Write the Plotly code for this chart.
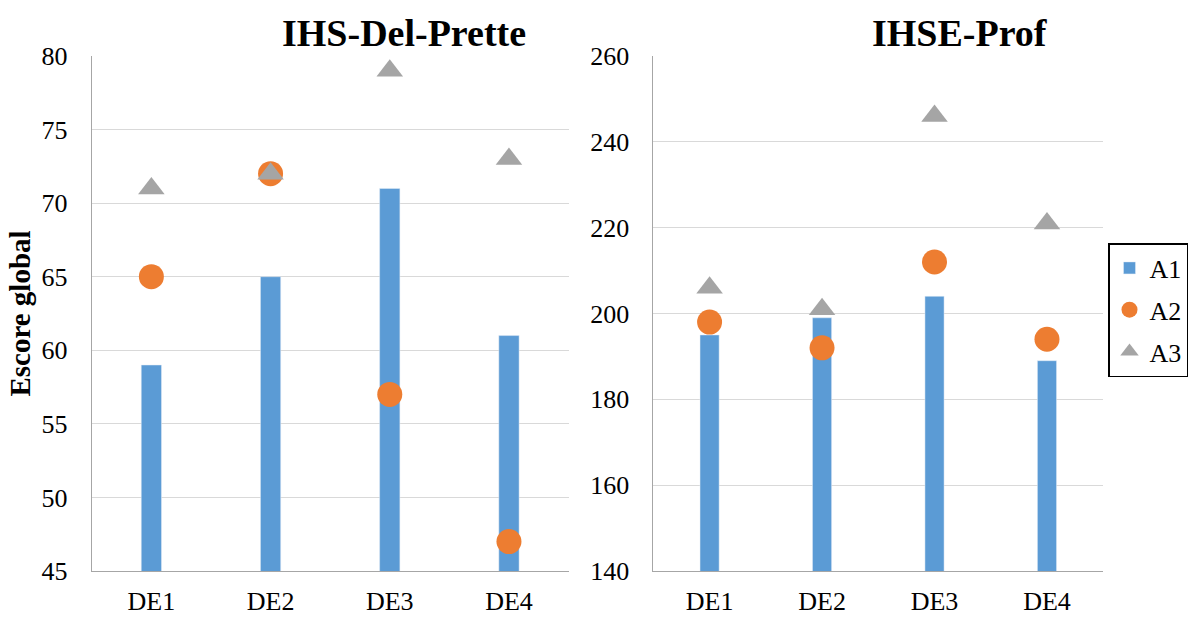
import plotly.graph_objects as go

groups = ["DE1", "DE2", "DE3", "DE4"]

# IHS-Del-Prette scores
ihs_a1 = [59, 65, 71, 61]
ihs_a2 = [65, 72, 57, 47]
ihs_a3 = [71, 72, 79, 73]

# IHSE-Prof scores
prof_a1 = [195, 199, 204, 189]
prof_a2 = [198, 192, 212, 194]
prof_a3 = [206, 201, 246, 221]

BLUE = "#5b9bd5"
ORANGE = "#ed7d31"
GRAY = "#a5a5a5"
FONT = "Liberation Serif"

fig = go.Figure()

panels = [("x", "y", ihs_a1, ihs_a2, ihs_a3, True),
          ("x2", "y2", prof_a1, prof_a2, prof_a3, False)]
for xa, ya, a1, a2, a3, show in panels:
    fig.add_trace(go.Bar(x=groups, y=a1, name="A1", marker_color=BLUE, width=0.17,
                         xaxis=xa, yaxis=ya, showlegend=show, legendgroup="A1"))
    fig.add_trace(go.Scatter(x=groups, y=a2, name="A2", mode="markers",
                             marker=dict(symbol="circle", size=25, color=ORANGE),
                             xaxis=xa, yaxis=ya, showlegend=show, legendgroup="A2"))
    fig.add_trace(go.Scatter(x=groups, y=a3, name="A3", mode="markers",
                             marker=dict(symbol="triangle-up", size=23, color=GRAY),
                             xaxis=xa, yaxis=ya, showlegend=show, legendgroup="A3"))

ytop, ybot = 1 - 56 / 617, 1 - 571 / 617
xcommon = dict(showline=True, linecolor="#a6a6a6", linewidth=1, ticks="",
               automargin=False, ticklabelstandoff=7,
               tickfont=dict(family=FONT, size=26, color="black"), showgrid=False)
ycommon = dict(showline=True, linecolor="#a6a6a6", linewidth=1, ticks="",
               automargin=False, ticklabelstandoff=18,
               showgrid=True, gridcolor="#d9d9d9", gridwidth=1.3, zeroline=False,
               tickfont=dict(family=FONT, size=26, color="black"))

fig.update_layout(
    width=1188, height=617,
    margin=dict(l=0, r=0, t=0, b=0),
    paper_bgcolor="white", plot_bgcolor="white",
    barmode="overlay",
    xaxis=dict(domain=[92 / 1188, 570 / 1188], anchor="y", **xcommon),
    yaxis=dict(domain=[ybot, ytop], anchor="x", range=[45, 80], dtick=5,
               title=dict(text="<b>Escore global</b>", standoff=2,
                          font=dict(family=FONT, size=29, color="black")),
               **ycommon),
    xaxis2=dict(domain=[655 / 1188, 1106 / 1188], anchor="y2", **xcommon),
    yaxis2=dict(domain=[ybot, ytop], anchor="x2", range=[140, 260], dtick=20, **ycommon),
    legend=dict(x=1111 / 1188, y=1 - 243 / 617, xanchor="left", yanchor="top",
                bordercolor="black", borderwidth=1.5, bgcolor="white",
                font=dict(family=FONT, size=26, color="black"),
                itemwidth=30, tracegroupgap=5),
    annotations=[
        dict(text="<b>IHS-Del-Prette</b>", x=405 / 1188, y=1 - 33 / 617, xref="paper", yref="paper",
             xanchor="center", yanchor="middle", showarrow=False,
             font=dict(family=FONT, size=38, color="black")),
        dict(text="<b>IHSE-Prof</b>", x=962 / 1188, y=1 - 33 / 617, xref="paper", yref="paper",
             xanchor="center", yanchor="middle", showarrow=False,
             font=dict(family=FONT, size=38, color="black")),
    ],
)

fig.write_html("out.html")
